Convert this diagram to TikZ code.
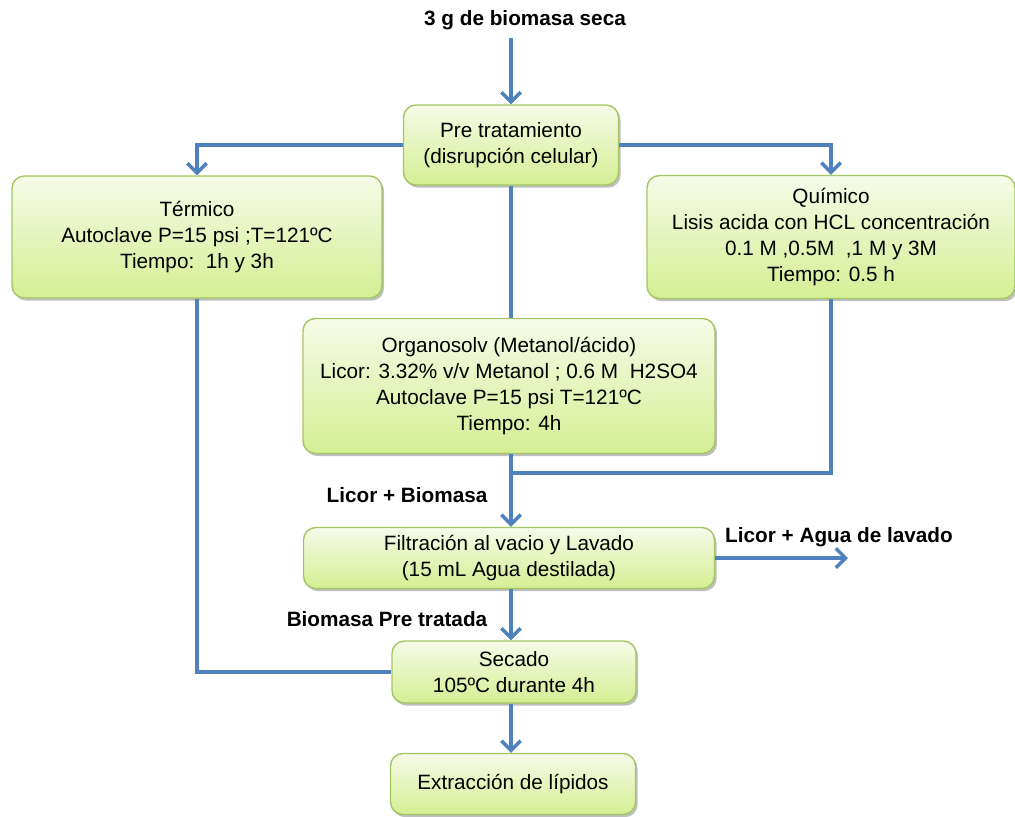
\documentclass[tikz,border=0pt]{standalone}
\usepackage{fontspec}
\setmainfont{Liberation Sans}
\usepackage{tikz}
\usetikzlibrary{arrows.meta,shadows}
\definecolor{flowblue}{HTML}{4F81BD}
\definecolor{boxline}{HTML}{A3C663}
\definecolor{boxtop}{HTML}{F6FBE8}
\definecolor{boxbot}{HTML}{D5EE93}
\begin{document}
\begin{tikzpicture}[x=0.02cm, y=-0.02cm,
    >={Straight Barb[length=5.5pt,width=11pt]},
    line/.style={draw=flowblue, line width=2pt},
    flow/.style={line, ->},
    box/.style={draw=boxline, line width=0.8pt, rounded corners=7pt,
        top color=boxtop, bottom color=boxbot, inner sep=0pt, align=center,
        font=\fontsize{11.8}{14.7}\selectfont,
        drop shadow={shadow xshift=1.2pt, shadow yshift=-1.5pt, fill=black, opacity=0.25}},
    lbl/.style={font=\fontsize{11.8}{14}\selectfont\bfseries}
  ]
    \useasboundingbox (0,0) rectangle (1015,816);
    % inputs and labels
    \node[lbl] (seca) at (525,20) {3 g de biomasa seca};
    \node[lbl] (licbio) at (407,495) {Licor + Biomasa};
    \node[lbl] (licagua) at (839,537) {Licor + Agua de lavado};
    \node[lbl] (biopre) at (387,619) {Biomasa Pre tratada};
    % boxes
    \node[box, minimum width=4.3cm, minimum height=1.6cm] (pre) at (511,145)
        {Pre tratamiento\\(disrupción celular)};
    \node[box, minimum width=7.4cm, minimum height=2.44cm] (term) at (197,237)
        {Térmico\\Autoclave P=15 psi ;T=121ºC\\Tiempo:\ \ 1h y 3h};
    \node[box, minimum width=7.36cm, minimum height=2.46cm] (quim) at (831,237)
        {Químico\\Lisis acida con HCL concentración\\0.1 M ,0.5M \ ,1 M y 3M\\Tiempo: 0.5 h};
    \node[box, minimum width=8.24cm, minimum height=2.7cm] (org) at (509,386)
        {Organosolv (Metanol/ácido)\\Licor: 3.32\% v/v Metanol ; 0.6 M \ H2SO4\\Autoclave P=15 psi T=121ºC\\Tiempo: 4h};
    \node[box, minimum width=8.22cm, minimum height=1.22cm] (filt) at (509,558)
        {Filtración al vacio y Lavado\\(15 mL Agua destilada)};
    \node[box, minimum width=4.88cm, minimum height=1.24cm] (sec) at (514,672)
        {Secado\\105ºC durante 4h};
    \node[box, minimum width=4.9cm, minimum height=1.22cm] (ext) at (513,784)
        {Extracción de lípidos};
    % junction points
    \coordinate (top) at (511,38);
    \coordinate (join) at (511,473);
    \coordinate (out) at (848,558);
    % connectors
    \draw[flow] (top) -- (top |- pre.north);
    \draw[flow] (pre.west) -| (term.north);
    \draw[flow] (pre.east) -| (quim.north);
    \draw[line] (top |- pre.south) -- (top |- org.north);
    \draw[line] (quim.south) |- (join);
    \draw[flow] (top |- org.south) -- (top |- filt.north);
    \draw[flow] (filt.east) -- (out);
    \draw[flow] (top |- filt.south) -- (top |- sec.north);
    \draw[line] (term.south) |- (sec.west);
    \draw[flow] (top |- sec.south) -- (top |- ext.north);
\end{tikzpicture}
\end{document}
